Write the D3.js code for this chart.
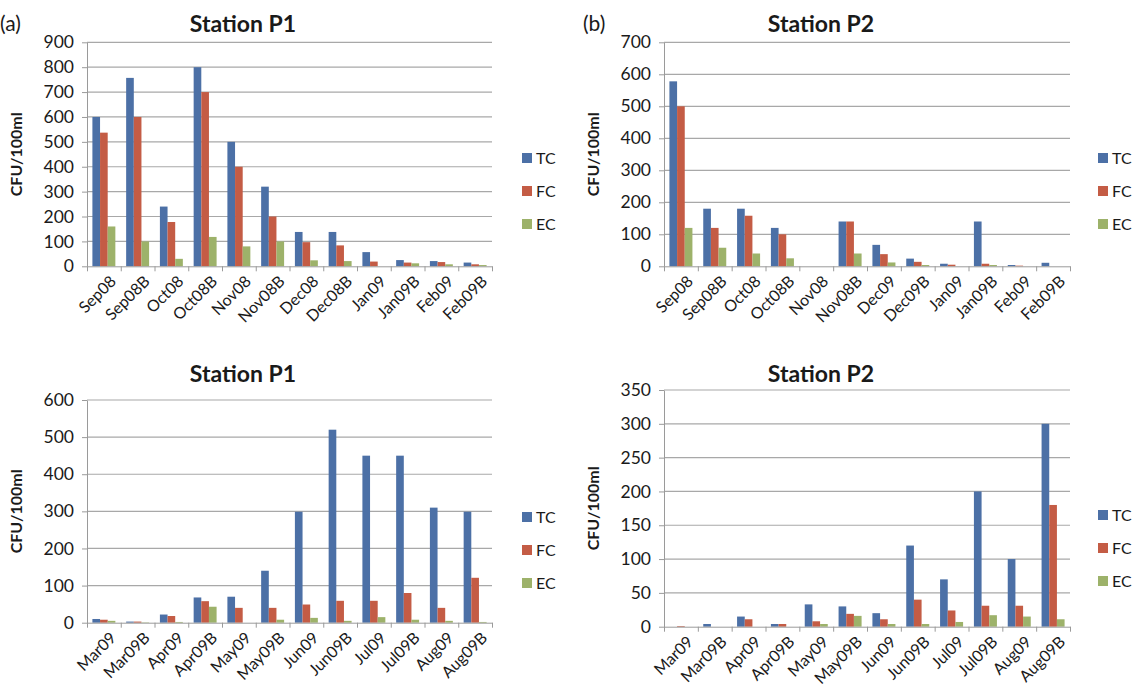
<!DOCTYPE html>
<html>
<head>
<meta charset="utf-8">
<script src="https://cdn.jsdelivr.net/npm/d3@7"></script>
<style>
  body { margin: 0; background: #fff; }
  svg text { font-family: Lato, "Open Sans", sans-serif; fill: #1a1a1a; }
  .axis path, .axis line { stroke: #9a9a9a; }
  .grid line { stroke: #a8a8a8; stroke-width: 1.2; }
</style>
</head>
<body>
<div id="chart"></div>
<script>
// series shared by all four panels
const seriesNames = ['TC', 'FC', 'EC'];
const seriesColors = ['#4c70a6', '#c45c45', '#9db26a'];

// top row categories
const catsP1Top = ['Sep08', 'Sep08B', 'Oct08', 'Oct08B', 'Nov08', 'Nov08B', 'Dec08', 'Dec08B', 'Jan09', 'Jan09B', 'Feb09', 'Feb09B'];
const catsP2Top = ['Sep08', 'Sep08B', 'Oct08', 'Oct08B', 'Nov08', 'Nov08B', 'Dec09', 'Dec09B', 'Jan09', 'Jan09B', 'Feb09', 'Feb09B'];
// bottom row categories
const catsBottom = ['Mar09', 'Mar09B', 'Apr09', 'Apr09B', 'May09', 'May09B', 'Jun09', 'Jun09B', 'Jul09', 'Jul09B', 'Aug09', 'Aug09B'];

// Station P1, Sep08 - Feb09
const p1TopTC = [600, 757, 240, 800, 500, 320, 138, 138, 57, 25, 21, 15];
const p1TopFC = [537, 600, 178, 700, 400, 200, 97, 84, 19, 15, 17, 8];
const p1TopEC = [160, 100, 30, 118, 80, 100, 24, 21, 0, 12, 8, 5];

// Station P2, Sep08 - Feb09
const p2TopTC = [578, 180, 180, 120, 0, 140, 67, 24, 8, 140, 4, 11];
const p2TopFC = [500, 120, 158, 100, 0, 140, 38, 14, 5, 8, 2, 0];
const p2TopEC = [120, 58, 40, 25, 0, 40, 12, 4, 0, 4, 0, 0];

// Station P1, Mar09 - Aug09
const p1BotTC = [10, 3, 22, 68, 70, 140, 299, 520, 450, 450, 310, 299];
const p1BotFC = [8, 3, 18, 58, 40, 40, 49, 59, 59, 80, 40, 121];
const p1BotEC = [5, 1, 2, 43, 0, 8, 13, 5, 15, 8, 5, 2];

// Station P2, Mar09 - Aug09
const p2BotTC = [0, 4, 15, 4, 33, 30, 20, 120, 70, 200, 100, 300];
const p2BotFC = [1, 0, 11, 4, 8, 19, 11, 40, 24, 31, 31, 180];
const p2BotEC = [0, 0, 0, 0, 4, 16, 4, 4, 7, 17, 15, 11];

const yAxisTitle = 'CFU/100ml';

const panels = [
  { tag: '(a)', title: 'Station P1', cats: catsP1Top, values: [p1TopTC, p1TopFC, p1TopEC], yMax: 900, yStep: 100,
    left: 87, right: 492, top: 42.3, bottom: 266.3, titleX: 243, titleY: 32, tagX: 0, tagY: 31, legendX: 522, legendY: 158 },
  { tag: '(b)', title: 'Station P2', cats: catsP2Top, values: [p2TopTC, p2TopFC, p2TopEC], yMax: 700, yStep: 100,
    left: 664, right: 1070, top: 42.3, bottom: 266.3, titleX: 821, titleY: 32, tagX: 583, tagY: 31, legendX: 1098, legendY: 158 },
  { tag: null, title: 'Station P1', cats: catsBottom, values: [p1BotTC, p1BotFC, p1BotEC], yMax: 600, yStep: 100,
    left: 87, right: 492, top: 400, bottom: 622.7, titleX: 243, titleY: 382, legendX: 522, legendY: 517 },
  { tag: null, title: 'Station P2', cats: catsBottom, values: [p2BotTC, p2BotFC, p2BotEC], yMax: 350, yStep: 50,
    left: 664, right: 1070, top: 390, bottom: 626.7, titleX: 821, titleY: 382, legendX: 1098, legendY: 515 }
];

const svg = d3.select('#chart').append('svg')
  .attr('width', 1134)
  .attr('height', 689);

panels.forEach(p => drawPanel(p));

function drawPanel(p) {
  const g = svg.append('g');
  const n = p.cats.length;

  const x0 = d3.scaleBand().domain(p.cats).range([p.left, p.right]).padding(0);
  const x1 = d3.scaleBand().domain(seriesNames)
    .range([x0.bandwidth() * 0.16, x0.bandwidth() * 0.84]).padding(0);
  const y = d3.scaleLinear().domain([0, p.yMax]).range([p.bottom, p.top]);
  const yTicks = d3.range(0, p.yMax + 1, p.yStep);

  // gridlines
  g.append('g').attr('class', 'grid')
    .selectAll('line')
    .data(yTicks.filter(t => t > 0))
    .enter().append('line')
    .attr('x1', p.left).attr('x2', p.right)
    .attr('y1', d => y(d)).attr('y2', d => y(d));

  // y axis
  const yAxis = g.append('g').attr('class', 'axis')
    .attr('transform', `translate(${p.left},0)`)
    .call(d3.axisLeft(y).tickValues(yTicks).tickSize(5).tickSizeOuter(0).tickPadding(8));
  yAxis.selectAll('text').style('font-size', '17.5px');

  // bars
  const groups = g.selectAll('g.cat')
    .data(p.cats)
    .enter().append('g')
    .attr('class', 'cat')
    .attr('transform', d => `translate(${x0(d)},0)`);

  groups.selectAll('rect')
    .data((c, i) => seriesNames.map((s, k) => ({ s: s, k: k, v: p.values[k][i] })))
    .enter().append('rect')
    .attr('x', d => x1(d.s))
    .attr('width', x1.bandwidth())
    .attr('y', d => y(d.v))
    .attr('height', d => p.bottom - y(d.v))
    .attr('fill', d => seriesColors[d.k]);

  // x axis: tick marks at category boundaries
  const xb = d3.scaleLinear().domain([0, n]).range([p.left, p.right]);
  g.append('g').attr('class', 'axis')
    .attr('transform', `translate(0,${p.bottom})`)
    .call(d3.axisBottom(xb).tickValues(d3.range(n + 1)).tickFormat('').tickSize(5).tickSizeOuter(0));

  // rotated category labels
  g.append('g').selectAll('text')
    .data(p.cats)
    .enter().append('text')
    .attr('text-anchor', 'end')
    .attr('dy', '0.72em')
    .attr('transform', d => `translate(${x0(d) + x0.bandwidth() / 2 + 5},${p.bottom + 8}) rotate(-45)`)
    .style('font-size', '16px')
    .text(d => d);

  // axis title
  const midY = (p.top + p.bottom) / 2;
  g.append('text')
    .attr('text-anchor', 'middle')
    .attr('transform', `translate(${p.left - 65},${midY}) rotate(-90)`)
    .style('font-size', '16px')
    .style('font-weight', 'bold')
    .text(yAxisTitle);

  // title
  g.append('text')
    .attr('x', p.titleX).attr('y', p.titleY)
    .attr('text-anchor', 'middle')
    .style('font-size', '23px')
    .style('font-weight', 'bold')
    .text(p.title);

  if (p.tag) {
    g.append('text')
      .attr('x', p.tagX).attr('y', p.tagY)
      .style('font-size', '21px')
      .text(p.tag);
  }

  // legend
  const leg = g.selectAll('g.leg')
    .data(seriesNames)
    .enter().append('g')
    .attr('class', 'leg')
    .attr('transform', (d, i) => `translate(${p.legendX},${p.legendY + i * 33})`);
  leg.append('rect')
    .attr('x', 0).attr('y', -5)
    .attr('width', 10).attr('height', 10)
    .attr('fill', (d, i) => seriesColors[i]);
  leg.append('text')
    .attr('x', 14).attr('dy', '0.36em')
    .style('font-size', '16px')
    .text(d => d);
}
</script>
</body>
</html>
